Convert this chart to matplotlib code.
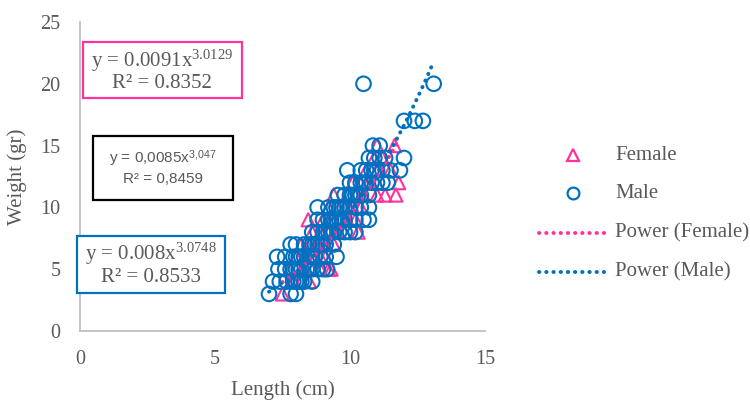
import matplotlib
matplotlib.use("Agg")
import matplotlib.pyplot as plt
import numpy as np
from matplotlib.patches import Rectangle

plt.rcParams['mathtext.fontset'] = 'custom'
plt.rcParams['mathtext.rm'] = 'Liberation Serif'
plt.rcParams['mathtext.sf'] = 'Liberation Sans'
plt.rcParams['mathtext.it'] = 'Liberation Serif:italic'

# ---------------- data ----------------
female_len = [7.5,
              7.9, 8.2, 8.5,
              7.8, 8.3, 8.6, 8.9, 9.2, 9.3,
              8.0, 8.3, 8.6, 8.9, 9.1,
              8.2, 8.5, 8.8, 9.1, 9.4,
              8.6, 8.9, 9.2, 9.5, 9.8, 10.3,
              8.45, 9.0, 9.3, 9.6, 9.9, 10.2,
              9.2, 9.5, 9.8, 10.1, 10.4,
              9.4, 9.9, 10.2, 10.5, 11.0, 11.3, 11.7,
              10.1, 10.4, 10.7, 11.0, 11.8,
              10.6, 11.0, 11.5,
              10.9, 11.2,
              11.0, 11.65]
female_wt = [3,
             4, 4, 4,
             5, 5, 5, 5, 5, 5,
             6, 6, 6, 6, 6,
             7, 7, 7, 7, 7,
             8, 8, 8, 8, 8, 8,
             9, 9, 9, 9, 9, 9,
             10, 10, 10, 10, 10,
             11, 11, 11, 11, 11, 11, 11,
             12, 12, 12, 12, 12,
             13, 13, 13,
             14, 14,
             15, 15]

male_len = [7.0, 7.8, 8.0,
            7.15, 7.4, 7.65, 7.9, 8.0, 8.1, 8.2, 8.3, 8.6,
            7.35, 7.6, 7.8, 7.9, 8.0, 8.1, 8.2, 8.4, 8.5, 8.6, 8.8, 9.0, 9.15,
            7.3, 7.6, 7.9, 8.0, 8.1, 8.2, 8.3, 8.5, 8.6, 8.7, 8.9, 9.1, 9.5,
            7.8, 8.0, 8.3, 8.5, 8.6, 8.7, 8.8, 8.9, 9.0, 9.1, 9.4,
            8.6, 8.8, 9.0, 9.1, 9.2, 9.3, 9.4, 9.6, 9.8, 10.0, 10.2,
            8.8, 9.0, 9.2, 9.3, 9.4, 9.5, 9.6, 9.7, 9.8, 10.0, 10.2, 10.5, 10.7,
            8.8, 9.2, 9.4, 9.5, 9.6, 9.7, 9.8, 10.0, 10.2, 10.4, 10.7,
            9.55, 9.8, 10.0, 10.1, 10.2, 10.3, 10.4, 10.7,
            10.0, 10.2, 10.4, 10.5, 10.6, 10.8, 11.0, 11.2, 11.4,
            9.9, 10.4, 10.6, 10.8, 10.9, 11.0, 11.2, 11.5, 11.85,
            10.7, 10.9, 11.1, 11.3, 12.0,
            10.85, 11.1,
            12.0, 12.4, 12.7,
            10.5, 13.1]
male_wt = [3, 3, 3,
           4, 4, 4, 4, 4, 4, 4, 4, 4,
           5, 5, 5, 5, 5, 5, 5, 5, 5, 5, 5, 5, 5,
           6, 6, 6, 6, 6, 6, 6, 6, 6, 6, 6, 6, 6,
           7, 7, 7, 7, 7, 7, 7, 7, 7, 7, 7,
           8, 8, 8, 8, 8, 8, 8, 8, 8, 8, 8,
           9, 9, 9, 9, 9, 9, 9, 9, 9, 9, 9, 9, 9,
           10, 10, 10, 10, 10, 10, 10, 10, 10, 10, 10,
           11, 11, 11, 11, 11, 11, 11, 11,
           12, 12, 12, 12, 12, 12, 12, 12, 12,
           13, 13, 13, 13, 13, 13, 13, 13, 13,
           14, 14, 14, 14, 14,
           15, 15,
           17, 17, 17,
           20, 20]

# power-fit coefficients shown on the chart
female_a, female_b = 0.0091, 3.0129
male_a, male_b = 0.008, 3.0748

x_ticks = [0, 5, 10, 15]
y_ticks = [0, 5, 10, 15, 20, 25]

PINK = "#FF3399"
BLUE = "#0070C0"
GRAY = "#595959"
SERIF = "Liberation Serif"
SANS = "Liberation Sans"

W, H = 750, 401
fig = plt.figure(figsize=(7.5, 4.01), dpi=100)
ax = fig.add_axes([80 / W, 1 - 331 / H, 405 / W, 309 / H])

dot = (0, (0.1, 1.75))

ax.scatter(female_len, female_wt, marker='^', s=90, facecolors='none',
           edgecolors=PINK, linewidths=1.5, zorder=3)
ax.scatter(male_len, male_wt, marker='o', s=110, facecolors='none',
           edgecolors=BLUE, linewidths=1.5, zorder=4)

fx = np.linspace(min(female_len), max(female_len), 200)
ax.plot(fx, female_a * fx ** female_b, color=PINK, lw=2.8, ls=dot,
        dash_capstyle='round', zorder=5)
mx = np.linspace(min(male_len), max(male_len), 200)
ax.plot(mx, male_a * mx ** male_b, color=BLUE, lw=2.8, ls=dot,
        dash_capstyle='round', zorder=6)

ax.set_xlim(0, 15)
ax.set_ylim(0, 25)
ax.set_xticks(x_ticks)
ax.set_yticks(y_ticks)
ax.tick_params(length=0, labelsize=14.5, labelcolor=GRAY, pad=14)
for lab in ax.get_xticklabels() + ax.get_yticklabels():
    lab.set_fontfamily(SERIF)
for s in ['top', 'right']:
    ax.spines[s].set_visible(False)
for s in ['left', 'bottom']:
    ax.spines[s].set_color("#BFBFBF")
    ax.spines[s].set_linewidth(1.3)
ax.set_xlabel("Length (cm)", fontsize=15, family=SERIF, color=GRAY, labelpad=8)
ax.set_ylabel("Weight (gr)", fontsize=15, family=SERIF, color=GRAY, labelpad=10)

# overlay in pixel coordinates for annotations and legend
ov = fig.add_axes([0, 0, 1, 1])
ov.set_xlim(0, W)
ov.set_ylim(H, 0)
ov.axis('off')
ov.patch.set_alpha(0)

def box(x0, y0, x1, y1, color):
    ov.add_patch(Rectangle((x0, y0), x1 - x0, y1 - y0, fill=True, facecolor='white',
                           edgecolor=color, lw=1.6, zorder=7))

box(83, 42, 242, 98, PINK)
ov.text(162, 61, "y = 0.0091x$^{3.0129}$", ha='center', va='center', fontsize=15,
        family=SERIF, color=GRAY, zorder=8)
ov.text(162, 84, "R² = 0.8352", ha='center', va='center', fontsize=15,
        family=SERIF, color=GRAY, zorder=8)

box(93, 136, 233, 200, "black")
ov.text(163, 159, "y = 0,0085x$^{\\mathsf{3{,}047}}$", ha='center', va='center', fontsize=11,
        family=SANS, color=GRAY, zorder=8)
ov.text(163, 179, "R² = 0,8459", ha='center', va='center', fontsize=11,
        family=SANS, color=GRAY, zorder=8)

box(77, 236, 225, 293, BLUE)
ov.text(151, 254, "y = 0.008x$^{3.0748}$", ha='center', va='center', fontsize=15,
        family=SERIF, color=GRAY, zorder=8)
ov.text(151, 278, "R² = 0.8533", ha='center', va='center', fontsize=15,
        family=SERIF, color=GRAY, zorder=8)

# legend
ov.plot([573], [155], marker='^', ms=8, mfc='none', mec=PINK, mew=1.6, ls='none')
ov.plot([573], [193], marker='o', ms=8.5, mfc='none', mec=BLUE, mew=1.6, ls='none')
ov.plot([539, 606], [233, 233], color=PINK, lw=2.8, ls=dot, dash_capstyle='round')
ov.plot([539, 606], [272, 272], color=BLUE, lw=2.8, ls=dot, dash_capstyle='round')
for yy, lab in zip([155, 193, 233, 272], ["Female", "Male", "Power (Female)", "Power (Male)"]):
    ov.text(615, yy, lab, ha='left', va='center', fontsize=15, family=SERIF, color=GRAY)

fig.savefig("out.png", dpi=100)
